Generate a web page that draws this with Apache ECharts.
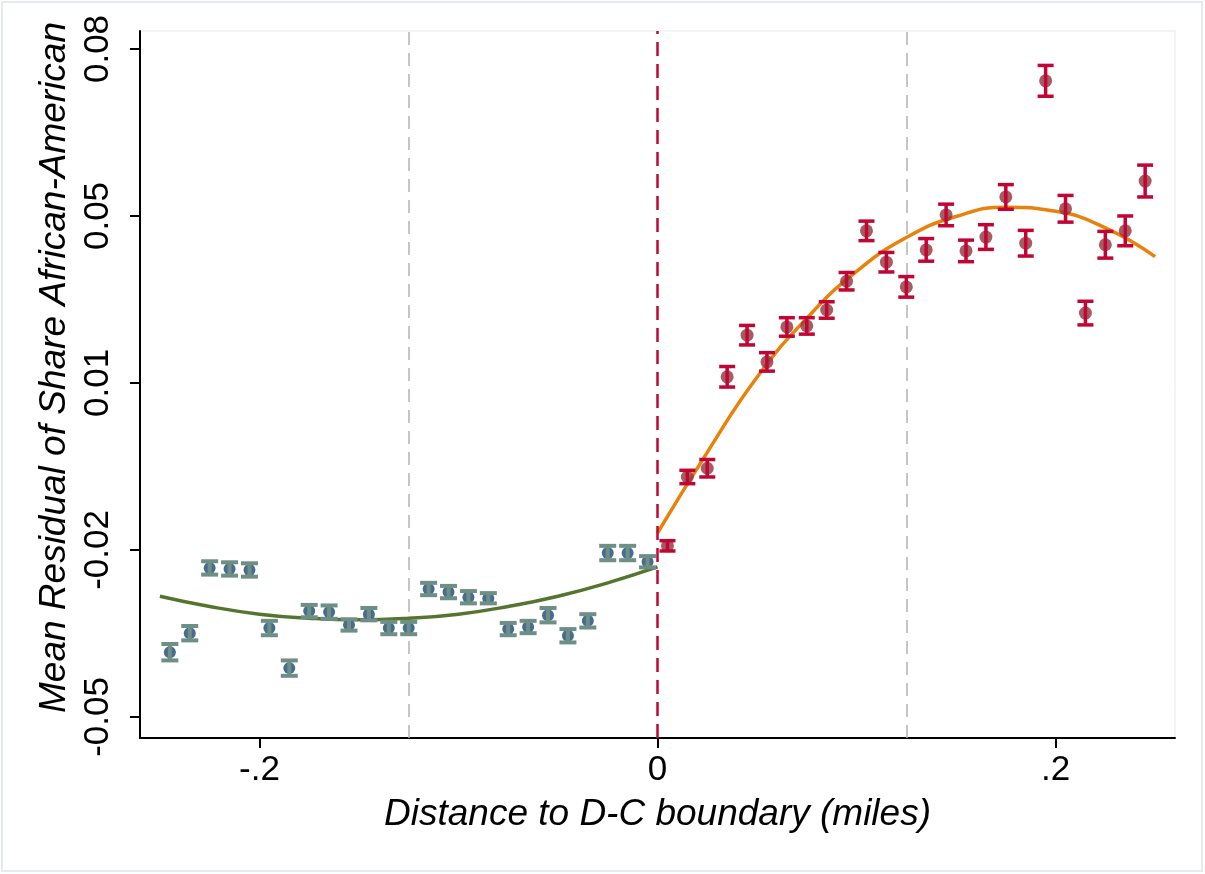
<!DOCTYPE html>
<html>
<head>
<meta charset="utf-8">
<script src="https://cdn.jsdelivr.net/npm/echarts@6/dist/echarts.min.js"></script>
<style>
html,body{margin:0;padding:0;background:#fff;}
#chart{width:1205px;height:874px;}
</style>
</head>
<body>
<div id="chart"></div>
<script>
// ---- data ----
const leftX = [-0.245,-0.235,-0.225,-0.215,-0.205,-0.195,-0.185,-0.175,-0.165,-0.155,-0.145,-0.135,-0.125,-0.115,-0.105,-0.095,-0.085,-0.075,-0.065,-0.055,-0.045,-0.035,-0.025,-0.015,-0.005];
const leftY = [-0.0374,-0.0337,-0.0210,-0.0212,-0.0214,-0.0327,-0.0405,-0.0294,-0.0296,-0.0321,-0.0300,-0.0327,-0.0327,-0.0251,-0.0257,-0.0267,-0.0269,-0.0329,-0.0325,-0.0302,-0.0342,-0.0313,-0.0181,-0.0181,-0.0198];
const leftErr = [0.0016,0.0014,0.0013,0.0013,0.0013,0.0014,0.0015,0.0012,0.0013,0.0011,0.0012,0.0012,0.0012,0.0012,0.0012,0.0012,0.0010,0.0012,0.0012,0.0014,0.0013,0.0013,0.0014,0.0014,0.0011];

const rightX = [0.005,0.015,0.025,0.035,0.045,0.055,0.065,0.075,0.085,0.095,0.105,0.115,0.125,0.135,0.145,0.155,0.165,0.175,0.185,0.195,0.205,0.215,0.225,0.235,0.245];
const rightY = [-0.0167,-0.0033,-0.0016,0.0162,0.0243,0.0191,0.0259,0.0261,0.0292,0.0348,0.0446,0.0385,0.0337,0.0409,0.0477,0.0407,0.0434,0.0512,0.0422,0.0738,0.0489,0.0286,0.0419,0.0446,0.0543];
const rightErr = [0.0010,0.0013,0.0017,0.0020,0.0019,0.0018,0.0018,0.0016,0.0016,0.0017,0.0019,0.0019,0.0020,0.0022,0.0021,0.0021,0.0024,0.0024,0.0025,0.0030,0.0026,0.0023,0.0026,0.0029,0.0031];

const leftFitX = [-0.25,-0.225,-0.2,-0.175,-0.15,-0.125,-0.1,-0.075,-0.05,-0.025,0];
const leftFitY = [-0.0265,-0.0285,-0.0300,-0.0308,-0.0311,-0.0308,-0.0300,-0.0285,-0.0265,-0.0239,-0.0208];
const rightFitX = [0,0.025,0.05,0.075,0.1,0.125,0.15,0.175,0.2,0.225,0.25];
const rightFitY = [-0.0142,0.0015,0.0161,0.0276,0.0367,0.0433,0.0474,0.0492,0.0484,0.0452,0.0396];

const xTickValues = [-0.2, 0, 0.2];
const xTickLabels = ['-.2', '0', '.2'];
const yTickValues = [-0.05, -0.0175, 0.015, 0.0475, 0.08];
const yTickLabels = ['-0.05', '-0.02', '0.01', '0.05', '0.08'];
const refLines = [-0.125, 0.125];
const cutoff = 0;

// ---- build ----
const pairs = (xs, ys) => xs.map((x, i) => [x, ys[i]]);
const errData = (xs, ys, es) => xs.map((x, i) => [x, ys[i] - es[i], ys[i] + es[i]]);
const labelFor = (vals, labs) => v => {
  let best = 0;
  for (let i = 1; i < vals.length; i++) if (Math.abs(vals[i] - v) < Math.abs(vals[best] - v)) best = i;
  return labs[best];
};
function errRender(color, lw, capW) {
  return function (params, api) {
    const x = api.value(0);
    const lo = api.coord([x, api.value(1)]);
    const hi = api.coord([x, api.value(2)]);
    const h = capW / 2;
    const st = {stroke: color, lineWidth: lw, lineCap: 'butt'};
    return {type: 'group', children: [
      {type: 'line', shape: {x1: lo[0], y1: lo[1], x2: hi[0], y2: hi[1]}, style: st},
      {type: 'line', shape: {x1: lo[0] - h, y1: lo[1], x2: lo[0] + h, y2: lo[1]}, style: st},
      {type: 'line', shape: {x1: hi[0] - h, y1: hi[1], x2: hi[0] + h, y2: hi[1]}, style: st}
    ]};
  };
}

const FONT = '"Liberation Sans", Arial, sans-serif';
const chart = echarts.init(document.getElementById('chart'), null, {renderer: 'canvas'});
chart.setOption({
  animation: false,
  backgroundColor: '#ffffff',
  grid: {left: 140, right: 30, top: 31, bottom: 136, show: true, borderColor: '#e3ebee', borderWidth: 1, backgroundColor: 'transparent'},
  graphic: [{type: 'rect', shape: {x: 2, y: 2, width: 1200, height: 869}, style: {fill: 'none', stroke: '#e3ebee', lineWidth: 2}, silent: true, z: -10}],
  xAxis: {
    type: 'value', min: -0.26, max: 0.26,
    name: 'Distance to D-C boundary (miles)', nameLocation: 'middle', nameGap: 58,
    nameTextStyle: {fontFamily: FONT, fontSize: 37, fontStyle: 'italic', color: '#000'},
    axisLine: {show: true, onZero: false, lineStyle: {color: '#000', width: 2}},
    axisTick: {show: true, length: 10, customValues: xTickValues, lineStyle: {color: '#000', width: 2}},
    axisLabel: {customValues: xTickValues, formatter: labelFor(xTickValues, xTickLabels), fontFamily: FONT, fontSize: 35, color: '#000', margin: 15},
    splitLine: {show: false}
  },
  yAxis: {
    type: 'value', min: -0.0541, max: 0.0835,
    name: 'Mean Residual of Share African-American', nameLocation: 'middle', nameGap: 64, nameRotate: 90,
    nameTextStyle: {fontFamily: FONT, fontSize: 37, fontStyle: 'italic', color: '#000', padding: [0, 0, 0, 34]},
    axisLine: {show: true, onZero: false, lineStyle: {color: '#000', width: 2}},
    axisTick: {show: true, length: 10, customValues: yTickValues, lineStyle: {color: '#000', width: 2}},
    axisLabel: {customValues: yTickValues, formatter: labelFor(yTickValues, yTickLabels), rotate: 90, fontFamily: FONT, fontSize: 35, color: '#000', margin: 24},
    splitLine: {show: false}
  },
  series: [
    {type: 'line', data: [], markLine: {silent: true, symbol: 'none', precision: 4, label: {show: false},
      lineStyle: {color: '#b3b3b3', width: 1.5, type: [13, 8]},
      data: refLines.map(v => ({xAxis: v}))}, z: 1},
    {type: 'line', data: pairs(leftFitX, leftFitY), smooth: true, showSymbol: false, symbol: 'none',
      lineStyle: {color: '#55752f', width: 3.5}, z: 2},
    {type: 'line', data: pairs(rightFitX, rightFitY), smooth: true, showSymbol: false, symbol: 'none',
      lineStyle: {color: '#e8820c', width: 3.5}, z: 2},
    {type: 'line', data: [], markLine: {silent: true, symbol: 'none', precision: 4, label: {show: false},
      lineStyle: {color: '#c10534', width: 2.5, type: [14, 8]},
      data: [{xAxis: cutoff}]}, z: 3},
    {type: 'scatter', data: pairs(leftX, leftY), symbol: 'circle', symbolSize: 12,
      itemStyle: {color: '#1a476f'}, z: 4},
    {type: 'custom', data: errData(leftX, leftY, leftErr), renderItem: errRender('#6e8f86', 4, 17),
      encode: {x: 0, y: [1, 2]}, z: 5},
    {type: 'scatter', data: pairs(rightX, rightY), symbol: 'circle', symbolSize: 13,
      itemStyle: {color: '#90353b'}, z: 4},
    {type: 'custom', data: errData(rightX, rightY, rightErr), renderItem: errRender('#c10534', 3.5, 16),
      encode: {x: 0, y: [1, 2]}, z: 5}
  ]
});
</script>
</body>
</html>
